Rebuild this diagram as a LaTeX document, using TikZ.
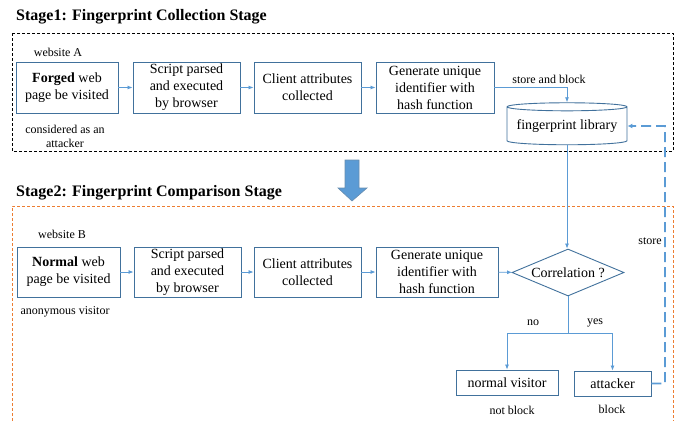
\documentclass[tikz,border=0pt]{standalone}
\usepackage{fontspec}
\setmainfont{Liberation Serif}
\usetikzlibrary{positioning,shapes.geometric,arrows.meta}
\definecolor{boxblue}{HTML}{41719C}
\definecolor{linkblue}{HTML}{5B9BD5}
\definecolor{stageorange}{HTML}{ED7D31}

\begin{document}
\begin{tikzpicture}[x=1pt,y=-1pt]
    \tikzset{
        stepbox/.style={draw=boxblue,line width=0.9pt,fill=white,align=center,inner sep=0pt,
            font=\fontsize{14}{17}\selectfont},
        link/.style={draw=linkblue,line width=0.8pt,-{Latex[length=5pt,width=4pt]}},
        storelink/.style={draw=linkblue,line width=1.6pt,dash pattern=on 10pt off 5pt,
            -{Latex[length=5pt,width=5pt]}},
        note/.style={font=\fontsize{12}{14.5}\selectfont,align=center,inner sep=0pt},
        stagetitle/.style={font=\fontsize{16}{19}\selectfont\bfseries,anchor=west,inner sep=0pt}}
    \useasboundingbox (0,0) rectangle (680,421);

    % stage 1
    \node[stagetitle] (title1) at (16,17) {Stage1: Fingerprint Collection Stage};
    \draw[dash pattern=on 3pt off 2pt,line width=0.8pt] (12,33) rectangle (673,151);
    \node[note] (siteA) at (58,52) {website A};
    \node[stepbox,minimum width=102pt,minimum height=51pt] (visitA) at (67,87.5) {\textbf{Forged} web\\page be visited};
    \node[stepbox,minimum width=107pt,minimum height=51pt] (parseA) at (186.5,87.5) {Script parsed\\and executed\\by browser};
    \node[stepbox,minimum width=107pt,minimum height=51pt] (attrA) at (307.5,87.5) {Client attributes\\collected};
    \node[stepbox,minimum width=118pt,minimum height=51pt] (hashA) at (435,87.5) {Generate unique\\identifier with\\hash function};
    \node[note] (roleA) at (65,136.5) {considered as an\\attacker};
    \node[stepbox,cylinder,shape border rotate=90,aspect=0.08,minimum width=120pt,minimum height=42pt]
        (library) at (567,126) {fingerprint library};
    \node[note] (storeblock) at (549,79) {store and block};

    \draw[link] (visitA) -- (parseA);
    \draw[link] (parseA) -- (attrA);
    \draw[link] (attrA) -- (hashA);
    \draw[link] (hashA.east) -| (library.north);

    % arrow between the stages
    \filldraw[fill=linkblue,draw=boxblue!80,line width=0.6pt]
        (345,160) -- (359,160) -- (359,188) -- (367,188) -- (352,201) -- (338,188) -- (345,188) -- cycle;

    % stage 2
    \node[stagetitle] (title2) at (16,193) {Stage2: Fingerprint Comparison Stage};
    \draw[stageorange,dash pattern=on 3pt off 2pt,line width=0.8pt] (12,421) -- (12,206) -- (673,206) -- (673,421);
    \node[note] (siteB) at (62,234) {website B};
    \node[stepbox,minimum width=103pt,minimum height=50pt] (visitB) at (68.5,272) {\textbf{Normal} web\\page be visited};
    \node[stepbox,minimum width=107pt,minimum height=50pt] (parseB) at (187.5,272) {Script parsed\\and executed\\by browser};
    \node[stepbox,minimum width=107pt,minimum height=50pt] (attrB) at (307.5,272) {Client attributes\\collected};
    \node[stepbox,minimum width=122pt,minimum height=50pt] (hashB) at (437,272) {Generate unique\\identifier with\\hash function};
    \node[note] (roleB) at (65,312) {anonymous visitor};
    \node[stepbox,diamond,aspect=2.4,minimum width=112pt,minimum height=47pt] (match) at (568,272.5) {Correlation ?};
    \node[stepbox,minimum width=102pt,minimum height=25pt] (normal) at (507,382.5) {normal visitor};
    \node[stepbox,minimum width=77pt,minimum height=25pt] (attacker) at (612.5,383.5) {attacker};
    \node[note] (nolabel) at (533,323) {no};
    \node[note] (yeslabel) at (595,323) {yes};
    \node[note] (notblock) at (512,410) {not block};
    \node[note] (block) at (612,409) {block};
    \node[note] (storelabel) at (650,241) {store};
    \coordinate (fork) at (568,333);
    \coordinate (storeturn) at (665,126);

    \draw[link] (visitB) -- (parseB);
    \draw[link] (parseB) -- (attrB);
    \draw[link] (attrB) -- (hashB);
    \draw[link] (hashB) -- (match);
    \draw[link] (library.south) -- (library.south |- match.north);
    \draw[link] (match.south) -- (fork) -| (normal.north);
    \draw[link] (fork) -| (attacker.north);
    \draw[storelink] (attacker.east) -| (storeturn) -- (library.east);
\end{tikzpicture}
\end{document}
